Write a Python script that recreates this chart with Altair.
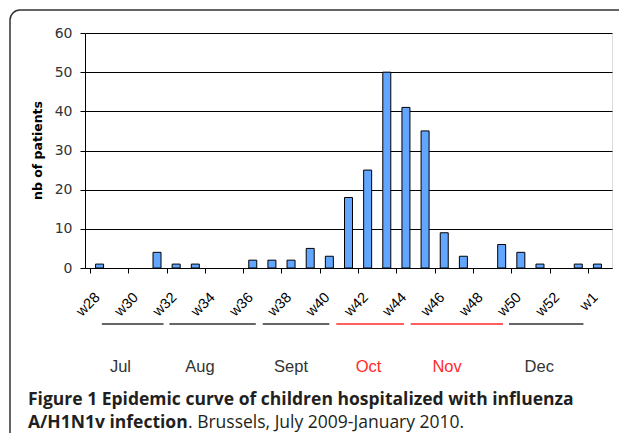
import altair as alt
import pandas as pd

# ---- data ----
weeks = ["w28", "w29", "w30", "w31", "w32", "w33", "w34", "w35", "w36", "w37",
         "w38", "w39", "w40", "w41", "w42", "w43", "w44", "w45", "w46", "w47",
         "w48", "w49", "w50", "w51", "w52", "w53", "w1"]
patients = [1, 0, 0, 4, 1, 1, 0, 0, 2, 2, 2, 5, 3, 18, 25, 50, 41, 35, 9, 3,
            0, 6, 4, 1, 0, 1, 1]
shown_labels = ["w28", "w30", "w32", "w34", "w36", "w38", "w40", "w42", "w44",
                "w46", "w48", "w50", "w52", "w1"]
y_ticks = [0, 10, 20, 30, 40, 50, 60]

months = ["Jul", "Aug", "Sept", "Oct", "Nov", "Dec"]
# month spans and label centres, in week-index units of the x axis
month_start = [0.12, 3.65, 8.52, 12.36, 16.25, 21.38]
month_end = [3.34, 8.16, 12.0, 15.9, 21.07, 25.27]
month_label_at = [1.09, 5.24, 10.0, 14.05, 18.15, 22.96]
highlight = ["Oct", "Nov"]

caption1 = "Figure 1 Epidemic curve of children hospitalized with influenza"
caption2_bold = "A/H1N1v infection"
caption2_rest = ". Brussels, July 2009-January 2010."
y_title = "nb of patients"

# ---- tables ----
bars_df = pd.DataFrame({"idx": list(range(len(weeks))), "week": weeks, "n": patients})
months_df = pd.DataFrame({"month": months, "start": month_start, "end": month_end,
                          "mid": month_label_at})

n = len(weeks)
label_lookup = [w if w in shown_labels else "" for w in weeks]
label_js = "[" + ",".join("'" + s + "'" for s in label_lookup) + "]"
tick_values = [k - 0.5 for k in range(n + 1)]

xscale = alt.Scale(domain=[-0.5, n - 0.5], nice=False, zero=False)

bars = alt.Chart(bars_df).transform_filter("datum.n > 0").mark_bar(
    size=8, color="#63A6FF", stroke="black", strokeWidth=1
).encode(
    x=alt.X("idx:Q", scale=xscale, title=None,
            axis=alt.Axis(values=tick_values,
                          labelExpr=f"{label_js}[round(datum.value + 0.5)] || ''",
                          labelAngle=315, labelAlign="right", labelBaseline="top",
                          labelOffset=2.5, labelPadding=17, labelFlush=False,
                          labelOverlap=False, labelBound=False,
                          labelFont="Liberation Sans", labelFontSize=14.5,
                          labelColor="black", tickColor="black", tickSize=5,
                          domainColor="black", grid=False)),
    y=alt.Y("n:Q", title=None,
            scale=alt.Scale(domain=[0, 60], nice=False),
            axis=alt.Axis(values=y_ticks, grid=True, gridColor="black",
                          gridOpacity=1, gridWidth=1, tickColor="black",
                          tickSize=5, domainColor="black", labelPadding=8,
                          labelFont="DejaVu Sans", labelFontSize=14,
                          labelColor="#333333")),
)

is_hl = alt.FieldOneOfPredicate(field="month", oneOf=highlight)

month_lines = alt.Chart(months_df).mark_rule(strokeWidth=1.5).encode(
    x=alt.X("start:Q", scale=xscale, title=None),
    x2="end:Q",
    y=alt.value(291),
    color=alt.condition(is_hl, alt.value("#FF2A2A"), alt.value("#333333")),
)

month_text = alt.Chart(months_df).mark_text(
    font="Liberation Sans", fontSize=16.5, baseline="middle", align="center"
).encode(
    x=alt.X("mid:Q", scale=xscale, title=None),
    y=alt.value(334),
    text="month:N",
    color=alt.condition(is_hl, alt.value("#FF2A2A"), alt.value("#333333")),
)

ytitle = alt.Chart(pd.DataFrame({"t": [y_title]})).mark_text(
    font="DejaVu Sans", fontWeight="bold", fontSize=12.5, angle=270,
    align="center", baseline="middle", color="black"
).encode(x=alt.value(-47), y=alt.value(117.5), text="t:N")

cap1 = alt.Chart(pd.DataFrame({"t": [caption1]})).mark_text(
    font="Open Sans", fontWeight="bold", fontSize=17.5, align="left",
    baseline="alphabetic", color="#231F20"
).encode(x=alt.value(-57), y=alt.value(372), text="t:N")

cap2a = alt.Chart(pd.DataFrame({"t": [caption2_bold]})).mark_text(
    font="Open Sans", fontWeight="bold", fontSize=17.5, align="left",
    baseline="alphabetic", color="#231F20"
).encode(x=alt.value(-57), y=alt.value(395), text="t:N")

cap2b = alt.Chart(pd.DataFrame({"t": [caption2_rest]})).mark_text(
    font="Open Sans", fontWeight="normal", fontSize=17.5, align="left",
    baseline="alphabetic", color="#231F20"
).encode(x=alt.value(103), y=alt.value(395), text="t:N")

frame = alt.Chart(pd.DataFrame({"a": [0]})).mark_rect(
    fillOpacity=0, stroke="#333333", strokeWidth=1.5, cornerRadius=10
).encode(x=alt.value(-75), x2=alt.value(600), y=alt.value(-23), y2=alt.value(460))

chart = alt.layer(frame, bars, month_lines, month_text, ytitle, cap1, cap2a, cap2b).properties(
    width=527, height=235,
    padding={"left": 77, "top": 25, "right": 7, "bottom": 165},
    autosize=alt.AutoSizeParams(type="none"),
).configure_view(
    fill="#C0C0C0", stroke="#7F7F7F", strokeWidth=1.5
).configure(background="white")

chart.save("out.html", embed_options={"renderer": "svg", "actions": False})
